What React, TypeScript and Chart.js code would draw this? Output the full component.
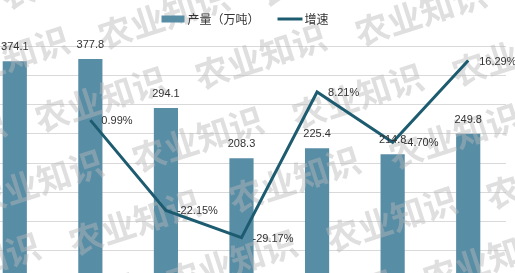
import React, { useEffect, useRef } from 'react';
import { Chart, registerables } from 'chart.js';

Chart.register(...registerables);

const categories = ['1', '2', '3', '4', '5', '6', '7'];
const production = [374.1, 377.8, 294.1, 208.3, 225.4, 214.8, 249.8];
const growth: (number | null)[] = [null, 0.99, -22.15, -29.17, 8.21, -4.7, 16.29];
const seriesNames = ['产量（万吨）', '增速'];
const watermarkText = '农业知识';

const BAR_COLOR = 'rgb(88,141,166)';
const LINE_COLOR = 'rgb(29,92,112)';
const TEXT_COLOR = '#333333';
const CANVAS_LEFT = -23;
const NUM_FONT = '11px "Liberation Sans", Arial, sans-serif';
const LEGEND_FONT = '12px "Noto Sans CJK SC", sans-serif';

const watermarkPlugin = {
  id: 'watermark',
  afterDatasetDraw(chart: any, args: any) {
    if (args.index !== 0) return;
    const ctx = chart.ctx;
    ctx.save();
    ctx.fillStyle = 'rgba(185,185,185,0.45)';
    ctx.font = 'bold 34px "Noto Sans CJK SC", sans-serif';
    ctx.textAlign = 'left';
    ctx.textBaseline = 'middle';
    const ax = 115 - CANVAS_LEFT;
    const ay = 32;
    const a = [97, 40];
    const b = [-63, 83];
    const ang = (-18 * Math.PI) / 180;
    for (let i = -6; i <= 8; i++) {
      for (let j = -4; j <= 6; j++) {
        const x = ax + i * a[0] + j * b[0];
        const y = ay + i * a[1] + j * b[1];
        if (x < -200 || x > chart.width + 50 || y < -60 || y > chart.height + 60) continue;
        ctx.save();
        ctx.translate(x, y);
        ctx.rotate(ang);
        ctx.fillText(watermarkText, -17, 0);
        ctx.restore();
      }
    }
    ctx.restore();
  },
};

const legendPlugin = {
  id: 'customLegend',
  afterDraw(chart: any) {
    const ctx = chart.ctx;
    ctx.save();
    ctx.font = LEGEND_FONT;
    ctx.textBaseline = 'middle';
    ctx.textAlign = 'left';
    const w1 = ctx.measureText(seriesNames[0]).width;
    const w2 = ctx.measureText(seriesNames[1]).width;
    const boxW = 23;
    const lineW = 25;
    const total = boxW + 3 + w1 + 18 + lineW + 2 + w2;
    const cx = 245 - CANVAS_LEFT;
    const y = 19;
    let x = cx - total / 2;
    ctx.fillStyle = BAR_COLOR;
    ctx.fillRect(x, y - 3.5, boxW, 7);
    x += boxW + 3;
    ctx.fillStyle = TEXT_COLOR;
    ctx.fillText(seriesNames[0], x, y);
    x += w1 + 18;
    ctx.strokeStyle = LINE_COLOR;
    ctx.lineWidth = 3;
    ctx.beginPath();
    ctx.moveTo(x, y);
    ctx.lineTo(x + lineW, y);
    ctx.stroke();
    x += lineW + 2;
    ctx.fillText(seriesNames[1], x, y);
    ctx.restore();
  },
};

const labelPlugin = {
  id: 'valueLabels',
  afterDatasetsDraw(chart: any) {
    const ctx = chart.ctx;
    ctx.save();
    ctx.fillStyle = TEXT_COLOR;
    ctx.font = NUM_FONT;
    ctx.textBaseline = 'middle';
    const lineMeta = chart.getDatasetMeta(1);
    ctx.textAlign = 'left';
    lineMeta.data.forEach((el: any, i: number) => {
      const v = growth[i];
      if (v === null || v === undefined) return;
      ctx.fillText(v.toFixed(2) + '%', el.x + 11, el.y + 1);
    });
    const barMeta = chart.getDatasetMeta(0);
    ctx.textAlign = 'center';
    barMeta.data.forEach((el: any, i: number) => {
      ctx.fillText(production[i].toFixed(1), el.x, el.y - 14);
    });
    ctx.restore();
  },
};

export default function App() {
  const ref = useRef<HTMLCanvasElement | null>(null);
  useEffect(() => {
    if (!ref.current) return;
    const chart = new Chart(ref.current, {
      type: 'bar',
      data: {
        labels: categories,
        datasets: [
          {
            type: 'bar',
            label: seriesNames[0],
            data: production,
            backgroundColor: BAR_COLOR,
            yAxisID: 'y',
            order: 1,
            barPercentage: 0.4,
            categoryPercentage: 0.8,
          },
          {
            type: 'line',
            label: seriesNames[1],
            data: growth,
            borderColor: LINE_COLOR,
            backgroundColor: LINE_COLOR,
            borderWidth: 3,
            pointRadius: 0,
            tension: 0,
            yAxisID: 'y1',
            order: 0,
            clip: false,
          } as any,
        ],
      },
      options: {
        responsive: false,
        devicePixelRatio: 1,
        animation: false,
        layout: { padding: { left: 0, right: 11, top: 46, bottom: 10 } },
        plugins: {
          tooltip: { enabled: false },
          legend: { display: false },
        },
        scales: {
          x: { display: false },
          y: {
            min: 0,
            max: 400,
            ticks: { display: false, stepSize: 50 },
            grid: { color: '#d9d9d9', drawTicks: false, lineWidth: 1 },
            border: { display: false },
          },
          y1: {
            position: 'right',
            min: -40,
            max: 20,
            display: false,
          },
        },
      },
      plugins: [watermarkPlugin, labelPlugin, legendPlugin],
    });
    return () => chart.destroy();
  }, []);

  return (
    <div
      style={{
        position: 'fixed',
        left: 0,
        top: 0,
        width: 515,
        height: 273,
        overflow: 'hidden',
        background: '#ffffff',
      }}
    >
      <canvas
        ref={ref}
        width={540}
        height={290}
        style={{ position: 'absolute', left: CANVAS_LEFT, top: 0, width: 540, height: 290 }}
      />
    </div>
  );
}
